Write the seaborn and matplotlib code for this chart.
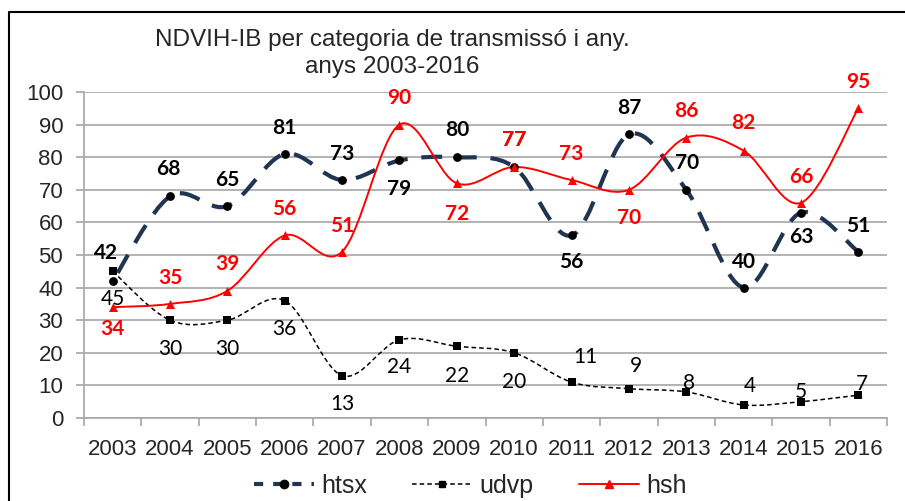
"""NDVIH-IB per categoria de transmissió, 2003-2016 (smoothed Excel-style lines)."""

import numpy as np
import pandas as pd
import matplotlib
import matplotlib.pyplot as plt
from matplotlib.path import Path
from matplotlib.patches import PathPatch
from matplotlib.lines import Line2D
import seaborn as sns

matplotlib.use("Agg")

# ── Data ───────────────────────────────────────────────────────────────────
years = ["2003", "2004", "2005", "2006", "2007", "2008", "2009",
         "2010", "2011", "2012", "2013", "2014", "2015", "2016"]
htsx = [42, 68, 65, 81, 73, 79, 80, 77, 56, 87, 70, 40, 63, 51]
udvp = [45, 30, 30, 36, 13, 24, 22, 20, 11, 9, 8, 4, 5, 7]
hsh = [34, 35, 39, 56, 51, 90, 72, 77, 73, 70, 86, 82, 66, 95]
y_ticks = [0, 10, 20, 30, 40, 50, 60, 70, 80, 90, 100]

# ── Label offsets (pixels, +dy = downwards) ────────────────────────────────
htsx_dy = [-28, -27, -26, -26, -26, 29, -27, -27, 27, -26, -27, -26, 24, -26]
htsx_dx = [-7, -2, 0, 0, 0, 0, 0, 0, 0, 0, 1, 0, 0, 0]
hsh_dy = [22, -26, -27, -26, -26, -27, 31, -27, -26, 28, -27, -28, -26, -26]
udvp_dy = [28, 29, 29, 28, 28, 27, 30, 29, -25, -23, -9, -19, -10, -11]
udvp_dx = [0, 0, 0, 0, 0, 0, 0, 0, 14, 7, 3, 6, 0, 4]

NAVY = "#1F3551"
RED = "#FF0000"
GRID = "#A6A6A6"
LABEL_FONT = "Lato"


def smooth_path(xs, ys):
    """Bezier path through the points (Catmull-Rom control points, like Excel)."""
    pts = np.column_stack([xs, ys]).astype(float)
    n = len(pts)
    verts = [pts[0]]
    codes = [Path.MOVETO]
    for i in range(n - 1):
        p_prev = pts[max(i - 1, 0)]
        p_next2 = pts[min(i + 2, n - 1)]
        c1 = pts[i] + (pts[i + 1] - p_prev) / 6.0
        c2 = pts[i + 1] - (p_next2 - pts[i]) / 6.0
        verts += [c1, c2, pts[i + 1]]
        codes += [Path.CURVE4] * 3
    return Path(verts, codes)


def add_labels(ax, xs, ys, dxs, dys, color, weight):
    for x, y, dx, dy in zip(xs, ys, dxs, dys):
        ax.annotate(str(y), (x, y), textcoords="offset points",
                    xytext=(dx * 0.72, -dy * 0.72), ha="center", va="center",
                    fontsize=15, fontweight=weight, color=color,
                    family=LABEL_FONT, zorder=6)


sns.set_style("white")
plt.rcParams["font.family"] = ["Liberation Sans", "DejaVu Sans"]

fig = plt.figure(figsize=(9.05, 5.01), dpi=100)
ax = fig.add_axes([84 / 905, 83 / 501, 803 / 905, 326 / 501])

xpos = np.arange(len(years))
df = pd.DataFrame({"x": xpos, "year": years, "htsx": htsx, "udvp": udvp, "hsh": hsh})

# smoothed lines
ax.add_patch(PathPatch(smooth_path(xpos, udvp), fill=False, edgecolor="black",
                       linewidth=1.1, linestyle=(0, (3, 2)), zorder=3))
ax.add_patch(PathPatch(smooth_path(xpos, htsx), fill=False, edgecolor=NAVY,
                       linewidth=3, linestyle=(6, (5, 3.3)), capstyle="butt",
                       zorder=3))
ax.add_patch(PathPatch(smooth_path(xpos, hsh), fill=False, edgecolor=RED,
                       linewidth=1.4, zorder=4))

# markers
sns.scatterplot(data=df, x="x", y="udvp", marker="s", s=28, color="black",
                edgecolor="black", linewidth=0, ax=ax, legend=False, zorder=5)
sns.scatterplot(data=df, x="x", y="htsx", marker="o", s=40, color="black",
                edgecolor="black", linewidth=0, ax=ax, legend=False, zorder=5)
sns.scatterplot(data=df, x="x", y="hsh", marker="^", s=42, color=RED,
                edgecolor=RED, linewidth=0, ax=ax, legend=False, zorder=5)

# data labels
add_labels(ax, xpos, udvp, udvp_dx, udvp_dy, "black", "normal")
add_labels(ax, xpos, htsx, htsx_dx, htsx_dy, "black", "bold")
add_labels(ax, xpos, hsh, [0] * len(hsh), hsh_dy, RED, "bold")

# axes styling
ax.set_xlim(-0.5, len(years) - 0.5)
ax.set_ylim(0, 100)
ax.set_yticks(y_ticks)
ax.set_yticklabels([str(t) for t in y_ticks])
ax.set_xticks(np.arange(len(years) + 1) - 0.5)
ax.set_xticklabels([])
ax.set_xticks(xpos, minor=True)
ax.set_xticklabels(years, minor=True)
ax.tick_params(axis="x", which="major", length=6, width=1.2, color=GRID,
               direction="out", bottom=True)
ax.tick_params(axis="x", which="minor", length=0, pad=15, labelsize=16)
ax.tick_params(axis="y", length=6, width=1.2, color=GRID, direction="out",
               left=True, pad=9, labelsize=16)
ax.set_xlabel("")
ax.set_ylabel("")
ax.grid(axis="y", color=GRID, linewidth=1.2)
ax.set_axisbelow(True)
for side in ("top", "right"):
    ax.spines[side].set_visible(False)
for side in ("left", "bottom"):
    ax.spines[side].set_color(GRID)
    ax.spines[side].set_linewidth(1.2)

# title
fig.text(392 / 905, 1 - 40 / 501, "NDVIH-IB per categoria de transmissó i any.",
         ha="center", va="center", fontsize=17.5)
fig.text(392 / 905, 1 - 67 / 501, "anys 2003-2016", ha="center", va="center",
         fontsize=17.5)

# legend
handles = [
    Line2D([], [], color=NAVY, lw=3, linestyle=(0, (2.2, 2.4)), marker="o",
           markersize=6, markerfacecolor="black", markeredgecolor="black"),
    Line2D([], [], color="black", lw=1.1, linestyle=(0, (3, 2)), marker="s",
           markersize=5, markerfacecolor="black", markeredgecolor="black"),
    Line2D([], [], color=RED, lw=1.4, marker="^", markersize=6,
           markerfacecolor=RED, markeredgecolor=RED),
]
fig.legend(handles, ["htsx", "udvp", "hsh"], loc="center",
           bbox_to_anchor=(470 / 905, 1 - 486 / 501), ncol=3, frameon=False,
           fontsize=18, handlelength=2.4, handletextpad=0.3, columnspacing=1.8)

# outer frame (top and left edges visible in the crop)
fig.add_artist(Line2D([9 / 905, 9 / 905, 1], [0, 1 - 12 / 501, 1 - 12 / 501],
                      transform=fig.transFigure, color="black", lw=1.5))

fig.savefig("out.png", dpi=100)
